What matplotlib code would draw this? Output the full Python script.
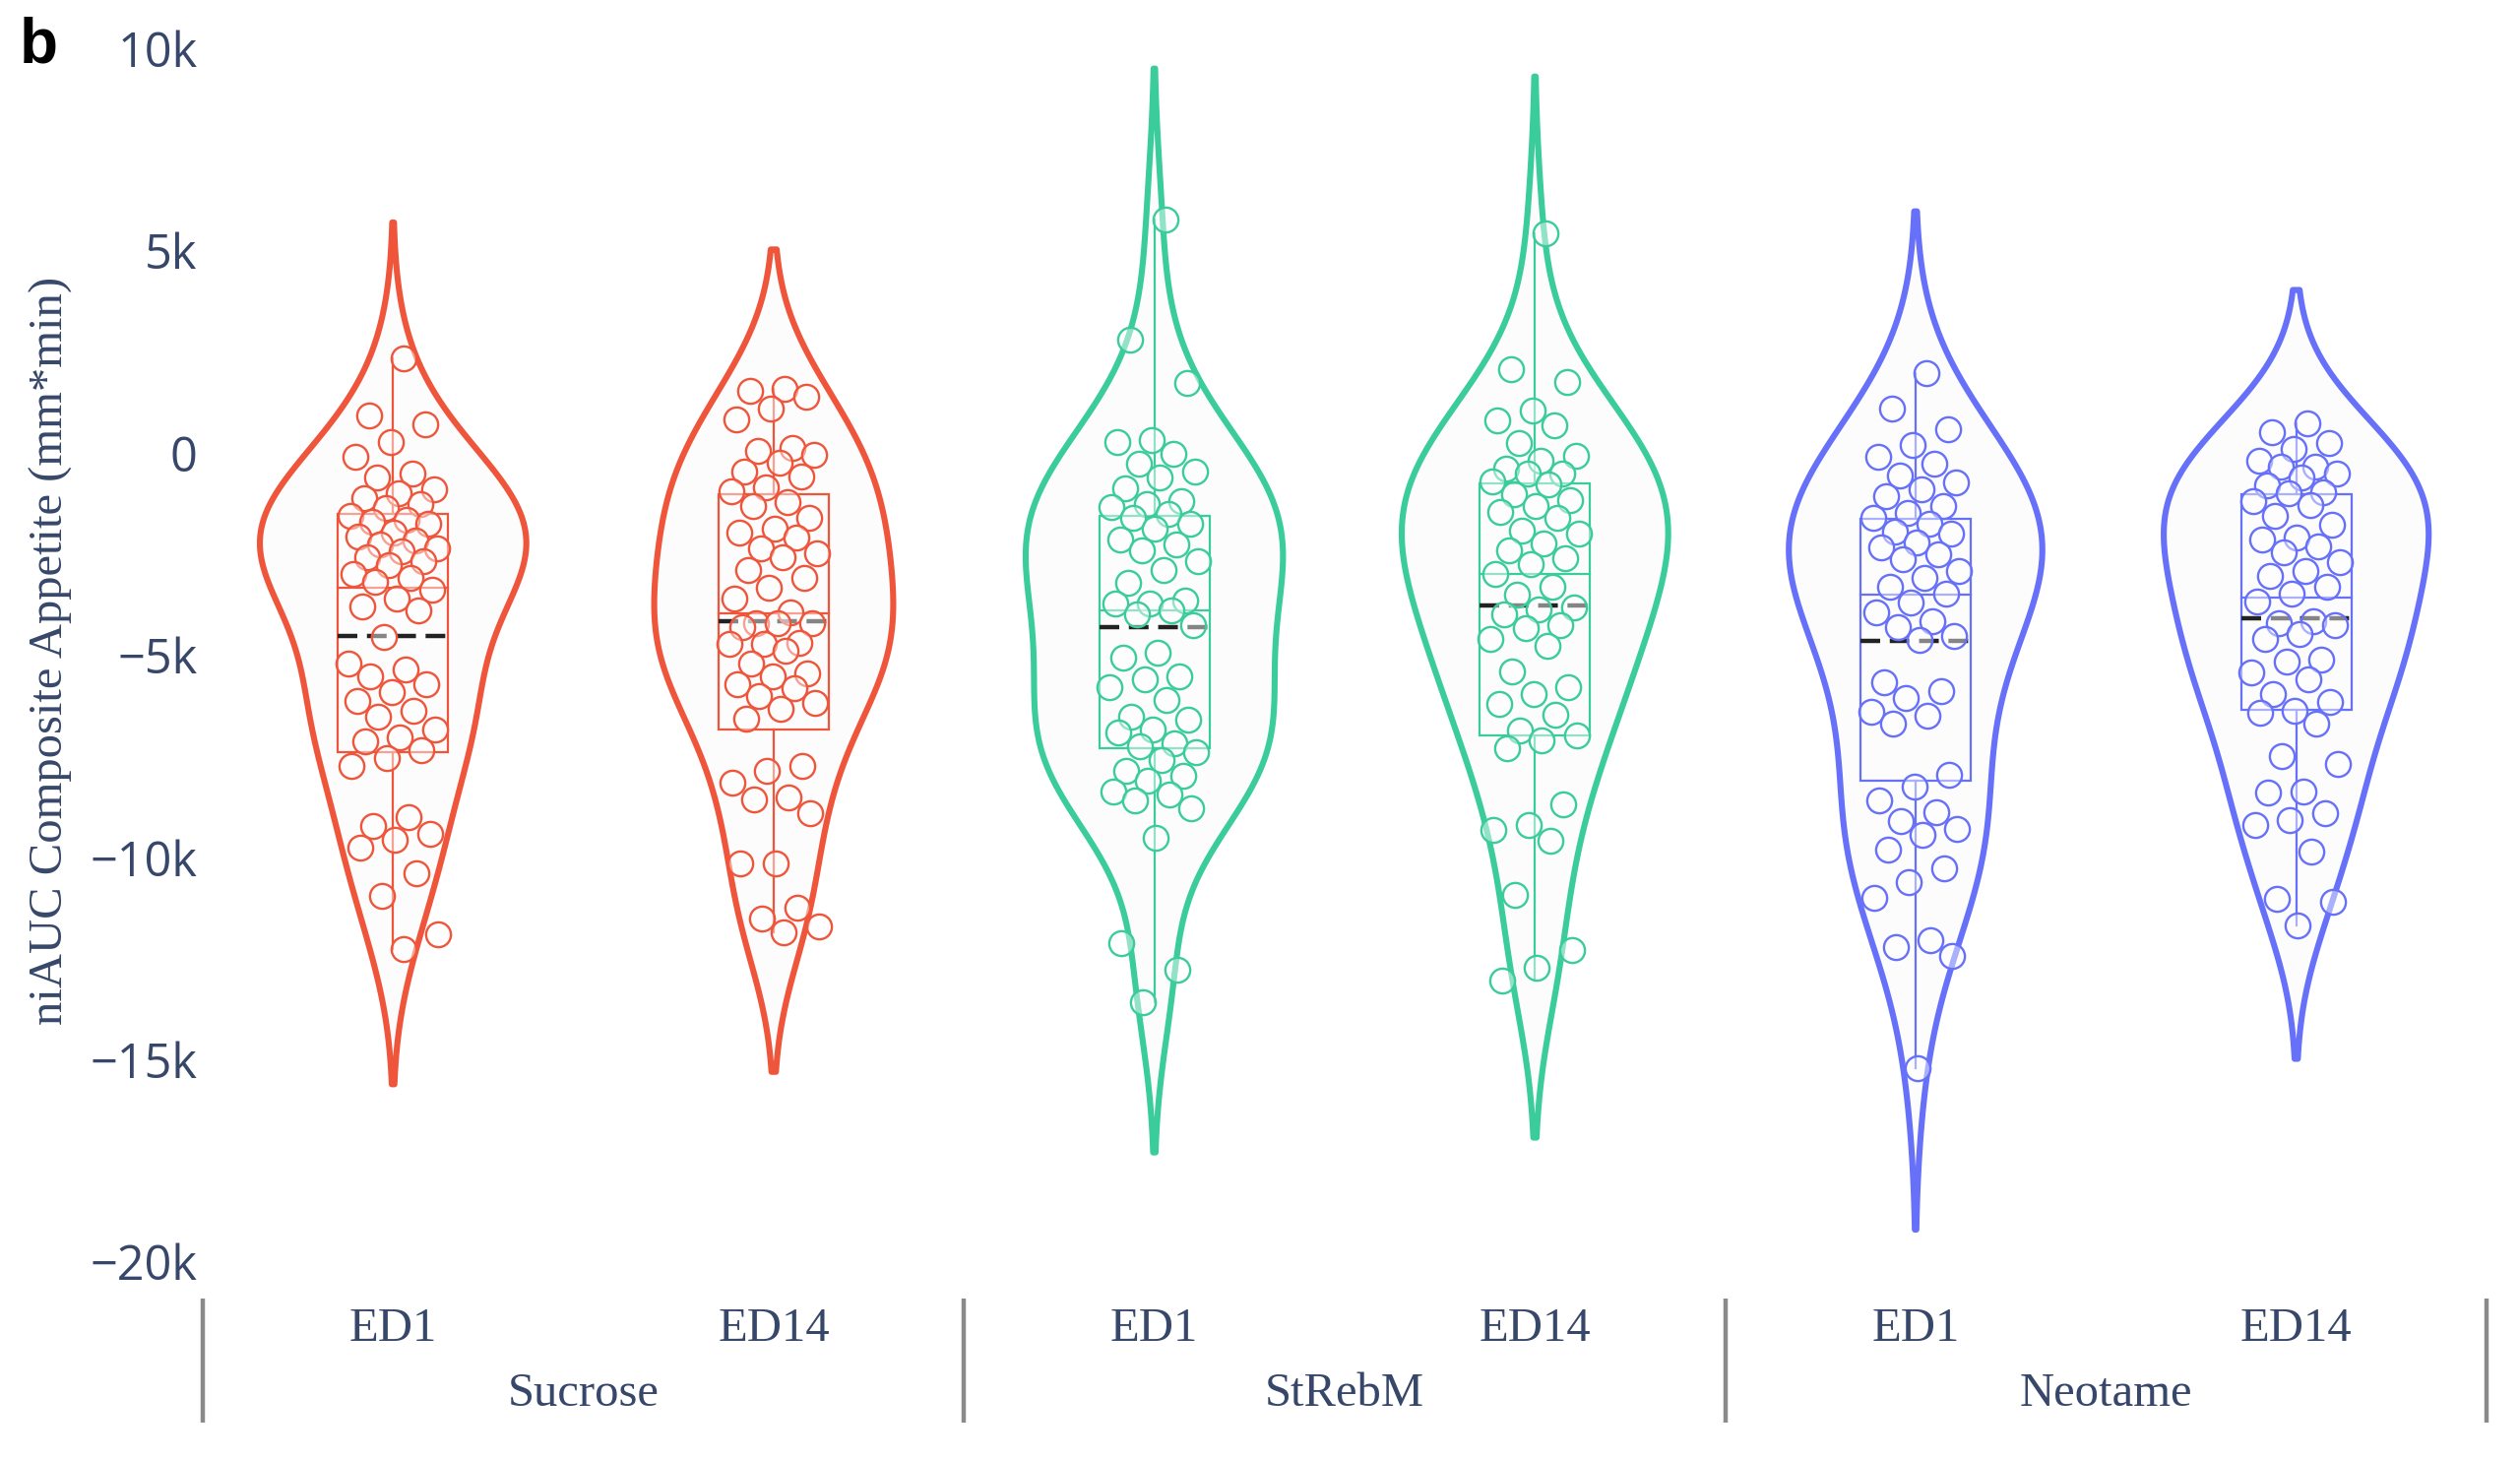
import numpy as np
import matplotlib
matplotlib.use("Agg")
import matplotlib.pyplot as plt
import matplotlib.transforms as mtransforms

# ---------------- data ----------------
groups = ["Sucrose", "StRebM", "Neotame"]
days = ["ED1", "ED14"]

sucrose_ed1 = [2350, 920, 720, 260, -90, -500, -600, -900, -1000, -1110, -1260, -1360,
               -1560, -1660, -1710, -1760, -1970, -2070, -2170, -2270, -2370, -2420,
               -2570, -2680, -2780, -2980, -3080, -3180, -3390, -3590, -3790, -3890,
               -4550, -5210, -5360, -5520, -5720, -5920, -6120, -6380, -6530, -6830,
               -7040, -7140, -7340, -7540, -7750, -9010, -9220, -9420, -9570, -9770,
               -10380, -10940, -11900, -12260]
sucrose_ed14 = [1580, 1540, 1400, 1110, 830, 130, 40, -50, -240, -470, -570, -850, -940,
                -1220, -1320, -1600, -1880, -1970, -2100, -2350, -2490, -2580, -2900,
                -3100, -3330, -3610, -3940, -4220, -4220, -4220, -4310, -4690, -4730,
                -4730, -4900, -5200, -5440, -5530, -5720, -5810, -6000, -6180, -6320,
                -6560, -7730, -7870, -8150, -8520, -8570, -8900, -10160, -10160,
                -11240, -11520, -11710, -11850]
strebm_ed1 = [5780, 2790, 1720, 330, 260, -10, -270, -470, -600, -870, -1200, -1270,
              -1340, -1500, -1600, -1740, -1870, -2130, -2270, -2400, -2670, -2900,
              -3200, -3660, -3730, -3730, -3900, -4000, -4260, -4930, -5060, -5520,
              -5590, -5800, -6100, -6520, -6590, -6850, -6900, -7190, -7250, -7400,
              -7590, -7850, -7980, -8100, -8380, -8450, -8600, -8780, -9510, -12110,
              -12770, -13570]
strebm_ed14 = [5430, 2080, 1760, 1060, 810, 680, 240, -80, -200, -390, -500, -520, -710,
               -780, -1030, -1160, -1300, -1470, -1600, -1920, -2000, -2230, -2400,
               -2610, -2740, -2990, -3310, -3500, -3820, -3880, -4000, -4260, -4320,
               -4600, -4770, -5400, -5780, -5970, -6200, -6480, -6860, -6980, -7110,
               -7300, -8700, -9200, -9330, -9600, -10920, -12290, -12730, -13050]
neotame_ed1 = [1970, 1100, 590, 190, -100, -270, -560, -730, -900, -1080, -1310, -1480,
               -1600, -1760, -1940, -2000, -2220, -2340, -2500, -2630, -2910, -3100,
               -3310, -3490, -3700, -3950, -4170, -4300, -4520, -4630, -5670, -5900,
               -6070, -6410, -6500, -6700, -7960, -8250, -8600, -8880, -9110, -9300,
               -9450, -9800, -10260, -10600, -11000, -12040, -12210, -12440, -15200]
neotame_ed14 = [740, 520, 250, 110, -200, -340, -340, -500, -610, -790, -970, -1000,
                -1190, -1280, -1550, -1780, -2100, -2140, -2300, -2460, -2700, -2910,
                -3040, -3300, -3490, -3670, -4170, -4210, -4260, -4480, -4600, -5110,
                -5160, -5430, -5600, -5970, -6150, -6380, -6420, -6700, -7500, -7680,
                -8360, -8400, -8900, -9080, -9210, -9850, -11020, -11110, -11690]

# box statistics (upper quartile, median, lower quartile, mean)
box_upper = [-1510, -1030, -1550, -750, -1630, -1030]
box_median = [-3340, -3970, -3890, -2980, -3500, -3580]
box_lower = [-7390, -6830, -7310, -6990, -8100, -6360]
means = [-4530, -4170, -4300, -3770, -4640, -4090]

y_ticks = [-20000, -15000, -10000, -5000, 0, 5000, 10000]
y_tick_labels = ["\u221220k", "\u221215k", "\u221210k", "\u22125k", "0", "5k", "10k"]

series = [sucrose_ed1, sucrose_ed14, strebm_ed1, strebm_ed14, neotame_ed1, neotame_ed14]

# ---------------- styles ----------------
group_colors = ["#EF553B", "#3ACC9A", "#6670F8"]
violin_halfwidth = [0.350, 0.314, 0.338, 0.350, 0.333, 0.348]
box_halfwidth = 0.145
jitter_width = 0.12
text_color = "#36476a"
serif = ["Liberation Serif", "DejaVu Serif"]
sans = ["Open Sans", "DejaVu Sans"]

W, H = 2560, 1483
fig = plt.figure(figsize=(W / 100, H / 100), dpi=100)
fig.patch.set_facecolor("white")
ax_left, ax_right, ax_top, ax_bottom = 206, 2526, 37, 1294
ax = fig.add_axes([ax_left / W, 1 - ax_bottom / H, (ax_right - ax_left) / W,
                   (ax_bottom - ax_top) / H])
ax.set_facecolor("white")


def kde(vals):
    v = np.asarray(vals, float)
    n = len(v)
    sd = v.std(ddof=1)
    q75, q25 = np.percentile(v, [75, 25])
    bw = 1.059 * min(sd, (q75 - q25) / 1.349) * n ** -0.2
    grid = np.linspace(v.min() - 2 * bw, v.max() + 2 * bw, 500)
    dens = np.exp(-0.5 * ((grid[:, None] - v[None, :]) / bw) ** 2).sum(1)
    return grid, dens / dens.max()


for i, vals in enumerate(series):
    color = group_colors[i // 2]
    x0 = i
    grid, d = kde(vals)
    hw = violin_halfwidth[i] * d
    xs = np.concatenate([x0 + hw, (x0 - hw)[::-1]])
    ys = np.concatenate([grid, grid[::-1]])
    ax.fill(xs, ys, facecolor="#fcfcfc", edgecolor=color, lw=4.4, zorder=1,
            joinstyle="round")

    v = np.asarray(vals, float)
    iqr = box_upper[i] - box_lower[i]
    lo_f = box_lower[i] - 1.5 * iqr
    hi_f = box_upper[i] + 1.5 * iqr
    wl = v[v >= lo_f].min()
    wh = v[v <= hi_f].max()
    ax.plot([x0, x0], [wl, box_lower[i]], color=color, lw=1.6, zorder=2)
    ax.plot([x0, x0], [box_upper[i], wh], color=color, lw=1.6, zorder=2)
    ax.add_patch(plt.Rectangle((x0 - box_halfwidth, box_lower[i]), 2 * box_halfwidth,
                               box_upper[i] - box_lower[i], facecolor="none",
                               edgecolor=color, lw=1.6, zorder=2))
    ax.plot([x0 - box_halfwidth, x0 + box_halfwidth], [box_median[i]] * 2,
            color=color, lw=1.6, zorder=2)
    ax.plot([x0 - box_halfwidth, x0 + box_halfwidth], [means[i]] * 2,
            color="#222222", lw=3.2, dashes=(4.5, 2.2), zorder=3)

    n = len(vals)
    offs = np.array([(((k + 1) * 0.6180339887) % 1 - 0.5) * 2 * jitter_width
                     for k in range(n)])
    ax.scatter(x0 + offs, vals, s=330, facecolors=(1, 1, 1, 0.45), edgecolors=color,
               linewidths=1.7, zorder=4)

ax.set_xlim(-0.5, 5.5)
ax.set_ylim(-20300, 10300)
ax.set_yticks(y_ticks)
ax.set_yticklabels(y_tick_labels, fontfamily=sans, fontsize=35, color=text_color)
ax.tick_params(axis="y", length=0, pad=4)
ax.set_xticks([])
for s in ax.spines.values():
    s.set_visible(False)

trans = mtransforms.blended_transform_factory(ax.transData, ax.transAxes)
ax_h = ax_bottom - ax_top
for i in range(6):
    ax.text(i, -(1350 - ax_bottom) / ax_h, days[i % 2], transform=trans,
            ha="center", va="center", fontfamily=serif, fontsize=35,
            color=text_color, clip_on=False)
for g, name in enumerate(groups):
    ax.text(2 * g + 0.5, -(1416 - ax_bottom) / ax_h, name, transform=trans,
            ha="center", va="center", fontfamily=serif, fontsize=35,
            color=text_color, clip_on=False)
for xd in [-0.5, 1.5, 3.5, 5.5]:
    ax.plot([xd, xd], [-(1319 - ax_bottom) / ax_h, -(1445 - ax_bottom) / ax_h],
            transform=trans, color="#8a8a8a", lw=3.2, clip_on=False,
            solid_capstyle="butt")

fig.text(52 / W, 1 - 661 / H, "niAUC Composite Appetite (mm*min)", rotation=90,
         ha="center", va="center", fontfamily=serif, fontsize=35, color=text_color)
fig.text(20 / W, 1 - 47 / H, "b", ha="left", va="center",
         fontfamily=["Liberation Sans", "DejaVu Sans"], fontweight="bold",
         fontsize=46, color="black")

fig.savefig("out.png", dpi=100, facecolor="white")
